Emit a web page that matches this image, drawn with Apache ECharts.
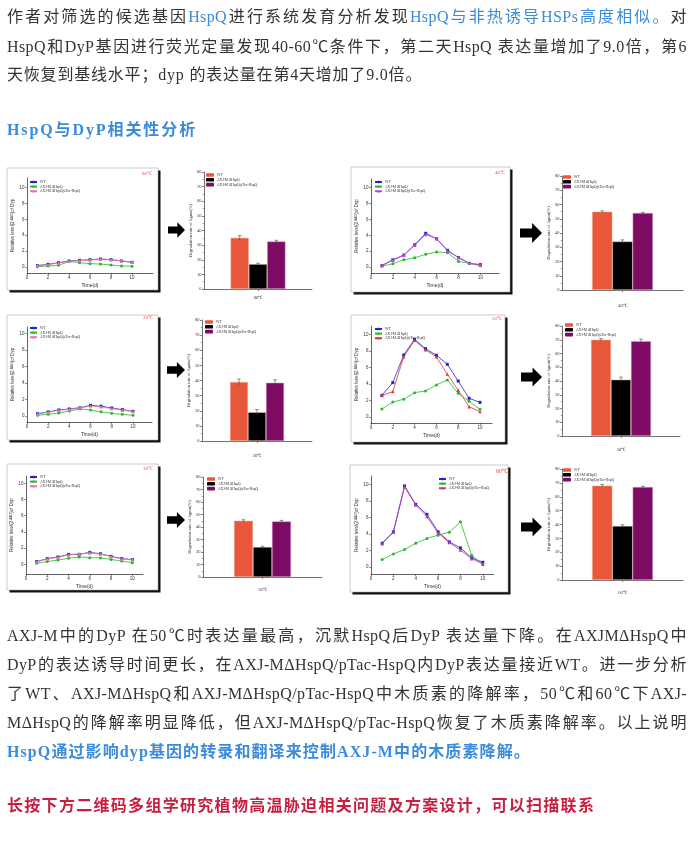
<!DOCTYPE html>
<html><head><meta charset="utf-8">
<script src="https://cdn.jsdelivr.net/npm/echarts@6/dist/echarts.min.js"></script>
<style>
html,body{margin:0;padding:0;background:#fff;width:690px;height:843px;overflow:hidden}
#chart{position:absolute;left:0;top:0;width:690px;height:843px}
.t{position:absolute;left:7px;width:680px;font-family:"Liberation Serif","Noto Sans CJK SC",serif;font-size:16px;letter-spacing:0.4px;color:#333;line-height:20px;z-index:2}
.j{text-align:justify;text-align-last:justify}
.n{white-space:nowrap}
.b{color:#3b8bdc}
.bb{color:#3b8bdc;font-weight:bold}
.r{color:#c71f40;font-weight:bold}
</style></head>
<body>
<div id="chart"></div>
<div class="t j" style="top:7px">作者对筛选的候选基因<span class="b">HspQ</span>进行系统发育分析发现<span class="b">HspQ与非热诱导HSPs高度相似。</span>对</div>
<div class="t j" style="top:37px">HspQ和DyP基因进行荧光定量发现40-60℃条件下，第二天HspQ 表达量增加了9.0倍，第6</div>
<div class="t n" style="top:65px;letter-spacing:0.8px">天恢复到基线水平；dyp 的表达量在第4天增加了9.0倍。</div>
<div class="t n bb" style="top:120px;letter-spacing:1.9px">HspQ与DyP相关性分析</div>
<div class="t j" style="top:626px">AXJ-M中的DyP 在50℃时表达量最高，沉默HspQ后DyP 表达量下降。在AXJMΔHspQ中</div>
<div class="t j" style="top:655px">DyP的表达诱导时间更长，在AXJ-MΔHspQ/pTac-HspQ内DyP表达量接近WT。进一步分析</div>
<div class="t j" style="top:684px">了WT、AXJ-MΔHspQ和AXJ-MΔHspQ/pTac-HspQ中木质素的降解率，50℃和60℃下AXJ-</div>
<div class="t j" style="top:713px">MΔHspQ的降解率明显降低，但AXJ-MΔHspQ/pTac-HspQ恢复了木质素降解率。以上说明</div>
<div class="t n bb" style="top:742px;letter-spacing:1.1px">HspQ通过影响dyp基因的转录和翻译来控制AXJ-M中的木质素降解。</div>
<div class="t n r" style="top:796px;letter-spacing:1.3px">长按下方二维码多组学研究植物高温胁迫相关问题及方案设计，可以扫描联系</div>
<script>
// ---------- data ----------
const temps = ['80℃','40℃','20℃','50℃','30℃','60℃'];
const days = [1,2,3,4,5,6,7,8,9,10];
const strains = ['WT','AXJ-M ΔHspQ','AXJ-M ΔHspQ/pTac-HspQ'];
const lineTicks = [0,2,4,6,8,10];

const wt_80 = [0.17,0.33,0.54,0.75,0.83,0.92,1.0,0.92,0.75,0.58];
const ko_80 = [0.04,0.12,0.2,0.7,0.54,0.42,0.37,0.25,0.12,0.08];
const cp_80 = [0.2,0.3,0.5,0.7,0.8,0.9,1.0,0.9,0.78,0.6];
const wt_40 = [0.17,0.9,1.5,2.8,4.25,3.55,2.1,1.17,0.46,0.3];
const ko_40 = [0.1,0.4,0.9,1.17,1.6,1.9,1.8,0.7,0.45,0.15];
const cp_40 = [0.2,0.85,1.5,2.75,4.1,3.6,2.0,1.2,0.45,0.25];
const wt_20 = [0.28,0.5,0.73,0.85,1.0,1.3,1.18,0.97,0.77,0.57];
const ko_20 = [0.1,0.2,0.36,0.6,0.85,0.73,0.5,0.32,0.2,0.08];
const cp_20 = [0.25,0.45,0.7,0.8,1.0,1.2,1.1,0.9,0.7,0.55];
const wt_50 = [2.63,4.17,7.53,9.43,8.3,7.5,6.4,4.37,2.27,1.78];
const ko_50 = [0.97,1.82,2.15,2.95,3.16,3.9,4.5,2.87,1.9,0.93];
const cp_50 = [2.6,3.08,7.3,9.3,8.15,7.3,5.2,3.24,1.25,0.65];
const wt_30 = [0.33,0.7,0.9,1.22,1.22,1.47,1.3,0.98,0.7,0.57];
const ko_30 = [0.12,0.33,0.53,0.73,0.9,0.82,0.78,0.6,0.4,0.2];
const cp_30 = [0.3,0.65,0.85,1.15,1.3,1.4,1.25,0.95,0.65,0.55];
const wt_60 = [2.87,4.25,9.8,7.57,6.36,4.25,3.04,2.3,1.1,0.57];
const ko_60 = [0.9,1.58,2.1,2.87,3.44,3.85,4.2,5.46,1.42,0.28];
const cp_60 = [2.8,4.2,9.68,7.5,6.1,4.1,2.95,2.05,1.0,0.37];

const rate_wt = [35,55,39,70,45,68];
const rate_ko = [17,34,19,41,24,39];
const rate_cp = [32.5,54,38.5,69,44.5,67];
const err_wt = [1.5,0.6,2,0.8,0.8,0.8];
const err_ko = [0.6,1.2,1.8,1.8,0.6,0.8];
const err_cp = [0.8,0.5,2,1.5,0.8,0.6];

const lineSets = [[wt_80,ko_80,cp_80],[wt_40,ko_40,cp_40],[wt_20,ko_20,cp_20],[wt_50,ko_50,cp_50],[wt_30,ko_30,cp_30],[wt_60,ko_60,cp_60]];

// ---------- layout (pixels) ----------
const LAY = [
 {box:[7,168,151,122], g:[27,178,126,95], xMax:12, yMin:-0.76, yMax:11.2, title:[147,174], leg:[29,180], bar:[204,172,108,117], bw:18.3, lm:6, bleg:[206,173], arrow:[168,230,17]},
 {box:[351,167,159,125], g:[371,179,128,94], xMax:11.7, yMin:-0.76, yMax:11.1, title:[500,173], leg:[374,180], bar:[562,176,121,114], bw:20.3, lm:13, bleg:[563,175], arrow:[520,233,22]},
 {box:[7,315,151,125], g:[27,327,125,95], xMax:11.8, yMin:-0.73, yMax:10.8, title:[148,318], leg:[29,326], bar:[202,320,110,121], bw:18, lm:12, bleg:[205,320], arrow:[167,370,18]},
 {box:[351,315,154,127], g:[371,326,121,97], xMax:11.1, yMin:-0.73, yMax:11.05, title:[497,319], leg:[374,327], bar:[562,326,118,110], bw:20, lm:11, bleg:[565,323], arrow:[521,377,21]},
 {box:[7,464,151,126], g:[26,476,117,98], xMax:11, yMin:-1.2, yMax:10.9, title:[148,469], leg:[29,475], bar:[203,477,119,100], bw:19, lm:10, bleg:[207,477], arrow:[167,520,18]},
 {box:[350,465,158,127], g:[371,476,123,98], xMax:11, yMin:-0.85, yMax:11.0, title:[502,471], leg:[438,477], bar:[562,469,121,111], bw:20.3, lm:10, bleg:[563,468], arrow:[521,527,21]}
];
const lineColors = ['#2424cc','#26bb26'];
const cpColors = ['#e873a3','#c844c8','#ee7799','#e03232','#ee7799','#cc3399'];
const barColors = ['#e9573a','#000000','#7d0b63'];
const symbols = ['rect','circle','triangle'];
const SANS = 'Liberation Sans';
const SERIF = 'Liberation Serif';

const grids=[], xAxes=[], yAxes=[], series=[], legends=[], graphics=[];

LAY.forEach((L,i)=>{
  graphics.push({type:'rect', shape:{x:L.box[0]+2.5,y:L.box[1]+2.5,width:L.box[2],height:L.box[3]}, style:{fill:'#111'}, z:0});
  graphics.push({type:'rect', shape:{x:L.box[0],y:L.box[1],width:L.box[2],height:L.box[3]}, style:{fill:'#fff',stroke:'#aaa',lineWidth:0.6}, z:0});
  graphics.push({type:'text', x:L.title[0], y:L.title[1], z:10, style:{text:temps[i], fill:'#e84a4a', font:(i===5?'6px ':'5px ')+SERIF, textAlign:'center', textVerticalAlign:'middle'}});
  const [ax,ay,al]=L.arrow; const bh=al*0.21, hh=al*0.45, bx=ax+al*0.55;
  graphics.push({type:'polygon', z:1, shape:{points:[[ax,ay-bh],[bx,ay-bh],[bx,ay-hh],[ax+al,ay],[bx,ay+hh],[bx,ay+bh],[ax,ay+bh]]}, style:{fill:'#000'}});

  // ---- line chart ----
  const gi = grids.length;
  grids.push({left:L.g[0], top:L.g[1], width:L.g[2], height:L.g[3], show:true, backgroundColor:'#c3c3c3', borderWidth:0, containLabel:false});
  xAxes.push({gridIndex:gi, type:'value', min:0, max:L.xMax,
    axisLine:{show:true,onZero:false,lineStyle:{color:'#222',width:0.7}},
    axisTick:{show:true,length:2,customValues:lineTicks,lineStyle:{color:'#222',width:0.5}},
    axisLabel:{customValues:lineTicks, fontSize:4.5, margin:2.5, color:'#333', fontFamily:SANS},
    splitLine:{show:false},
    name:'Time(d)', nameLocation:'middle', nameGap:10, nameTextStyle:{fontSize:5, color:'#333', fontFamily:SANS}});
  yAxes.push({gridIndex:gi, type:'value', min:L.yMin, max:L.yMax,
    axisLine:{show:true,lineStyle:{color:'#222',width:0.7}},
    axisTick:{show:true,length:2,customValues:lineTicks,lineStyle:{color:'#222',width:0.5}},
    axisLabel:{customValues:lineTicks, fontSize:4.5, margin:2.5, color:'#333', fontFamily:SANS},
    splitLine:{show:false},
    name:'Relative level(2{s|-ΔΔCt})of Dyp', nameLocation:'middle', nameGap:9,
    nameTextStyle:{fontSize:4.5, color:'#333', fontFamily:SANS, rich:{s:{fontSize:3, verticalAlign:'top', fontFamily:SANS, color:'#333'}}}});
  const lnames=[];
  lineSets[i].forEach((vals,k)=>{
    const nm = strains[k]+'#L'+i;
    lnames.push(nm);
    const col = k<2 ? lineColors[k] : cpColors[i];
    series.push({type:'line', name:nm, xAxisIndex:gi, yAxisIndex:gi,
      data: days.map((d,j)=>[d, vals[j]]),
      symbol:symbols[k], symbolSize:k===2?3.4:3, showSymbol:true,
      lineStyle:{color:col,width:0.8}, itemStyle:{color:col}, z:2+(k===2?1:0), animation:false});
  });
  legends.push({data:lnames, left:L.leg[0], top:L.leg[1], orient:'vertical', itemWidth:7, itemHeight:3, itemGap:0.6, padding:0, selectedMode:false,
    formatter:n=>n.split('#')[0], textStyle:{fontSize:3.6, color:'#333', fontFamily:SERIF, padding:[0,0,0,-2]}});

  // ---- bar chart ----
  const bi = grids.length;
  grids.push({left:L.bar[0], top:L.bar[1], width:L.bar[2], height:L.bar[3], containLabel:false});
  xAxes.push({gridIndex:bi, type:'category', data:[temps[i]],
    axisLine:{lineStyle:{color:'#333',width:0.7}},
    axisTick:{show:true,alignWithLabel:true,length:2,lineStyle:{color:'#333',width:0.6}},
    axisLabel:{fontSize:4.5, margin:L.lm, color:'#333', fontFamily:SERIF}});
  yAxes.push({gridIndex:bi, type:'value', min:0, max:80, interval:10,
    axisLine:{show:true,lineStyle:{color:'#333',width:0.7}},
    axisTick:{show:true,length:2,lineStyle:{color:'#333',width:0.6}},
    minorTick:{show:true,splitNumber:2,length:1.2,lineStyle:{color:'#333',width:0.5}},
    axisLabel:{fontSize:4.5, margin:2.5, color:'#333', fontFamily:SERIF},
    splitLine:{show:false},
    name:'Degradation rate of lignin(%)', nameLocation:'middle', nameGap:10,
    nameTextStyle:{fontSize:4.5, color:'#333', fontFamily:SERIF}});
  const rates=[rate_wt[i],rate_ko[i],rate_cp[i]];
  const errs=[err_wt[i],err_ko[i],err_cp[i]];
  const bnames=[];
  rates.forEach((v,k)=>{
    const nm=strains[k]+'#B'+i;
    bnames.push(nm);
    series.push({type:'bar', name:nm, xAxisIndex:bi, yAxisIndex:bi, data:[v], barWidth:L.bw, barGap:'0%',
      itemStyle:{color:barColors[k], borderColor: k===2?'#d9a0c8':'#f3b6a6', borderWidth:0.5}, animation:false});
  });
  const bw=L.bw;
  series.push({type:'custom', xAxisIndex:bi, yAxisIndex:bi, animation:false, z:5,
    data: rates.map((v,k)=>[0, v, errs[k], k]),
    renderItem:(params,api)=>{
      const c=api.coord([api.value(0), api.value(1)]);
      const top=api.coord([api.value(0), api.value(1)+api.value(2)]);
      const bot=api.coord([api.value(0), api.value(1)-api.value(2)]);
      const x=c[0]+(api.value(3)-1)*bw;
      const st={stroke:'#444',lineWidth:0.6};
      return {type:'group',children:[
        {type:'line',shape:{x1:x,y1:top[1],x2:x,y2:bot[1]},style:st},
        {type:'line',shape:{x1:x-1.8,y1:top[1],x2:x+1.8,y2:top[1]},style:st}
      ]};
    }});
  legends.push({data:bnames, left:L.bleg[0], top:L.bleg[1], orient:'vertical', itemWidth:8, itemHeight:3.6, itemGap:0.8, padding:0, selectedMode:false,
    formatter:n=>n.split('#')[0], itemStyle:{borderWidth:0}, textStyle:{fontSize:3.6, color:'#333', fontFamily:SERIF, padding:[0,0,0,-2]}});
});

const chart = echarts.init(document.getElementById('chart'), null, {renderer:'canvas'});
chart.setOption({
  animation:false,
  grid:grids, xAxis:xAxes, yAxis:yAxes, series:series, legend:legends,
  graphic:{elements:graphics}
});
</script>
</body></html>
